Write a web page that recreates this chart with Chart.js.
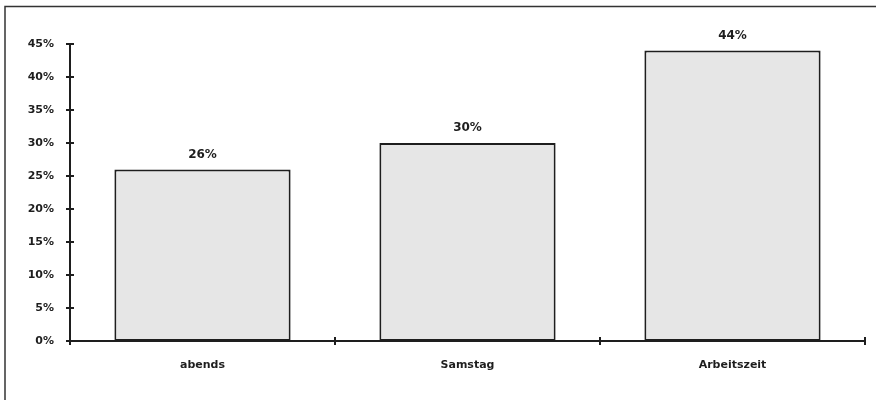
<!DOCTYPE html>
<html>
<head>
<meta charset="utf-8">
<script src="https://cdn.jsdelivr.net/npm/chart.js@4"></script>
<style>
  html, body { margin: 0; padding: 0; background: #fff; }
  #wrap { width: 876px; height: 400px; }
</style>
</head>
<body>
<div id="wrap"><canvas id="myBarChart"></canvas></div>
<script>
// chart data
const categories = ['abends', 'Samstag', 'Arbeitszeit'];
const shares = [26, 30, 44];
const yTicks = [0, 5, 10, 15, 20, 25, 30, 35, 40, 45];

const ink = '#1e1e1e';
const fontFamily = '"DejaVu Sans", Verdana, sans-serif';

// frame, crossing ticks and value labels
const extras = {
    id: 'extras',
    afterDatasetsDraw(chart) {
        const ctx = chart.ctx;
        const area = chart.chartArea;
        const x = chart.scales.x;
        const y = chart.scales.y;
        ctx.save();
        ctx.strokeStyle = '#333';
        ctx.lineWidth = 1.5;
        ctx.beginPath();
        ctx.moveTo(5, 400);
        ctx.lineTo(5, 6.5);
        ctx.lineTo(876, 6.5);
        ctx.stroke();

        ctx.strokeStyle = ink;
        ctx.lineWidth = 2;
        ctx.beginPath();
        ctx.moveTo(area.left, area.top);
        ctx.lineTo(area.left, area.bottom);
        ctx.lineTo(area.right, area.bottom);
        y.ticks.forEach(function(t, i) {
            const py = y.getPixelForTick(i);
            ctx.moveTo(area.left - 4, py);
            ctx.lineTo(area.left + 4, py);
        });
        for (let i = 0; i <= categories.length; i++) {
            const px = x.getPixelForValue(i - 0.5);
            ctx.moveTo(px, area.bottom - 4);
            ctx.lineTo(px, area.bottom + 4);
        }
        ctx.stroke();

        ctx.fillStyle = ink;
        ctx.font = 'bold 12px ' + fontFamily;
        ctx.textAlign = 'center';
        ctx.textBaseline = 'middle';
        chart.getDatasetMeta(0).data.forEach(function(bar, i) {
            ctx.fillText(shares[i] + '%', bar.x, bar.y - 15);
        });
        ctx.restore();
    }
};

var ctxBar = document.getElementById('myBarChart').getContext('2d');
var myBarChart = new Chart(ctxBar, {
    type: 'bar',
    data: {
        labels: categories,
        datasets: [{
            data: shares,
            backgroundColor: '#e6e6e6',
            borderColor: ink,
            borderWidth: 2,
            borderSkipped: false,
            barPercentage: 0.665,
            categoryPercentage: 1
        }]
    },
    options: {
        responsive: true,
        maintainAspectRatio: false,
        animation: false,
        layout: { padding: { left: 0, right: 11, top: 44, bottom: 0 } },
        plugins: {
            legend: { display: false },
            tooltip: { enabled: false }
        },
        scales: {
            y: {
                min: 0,
                max: 45,
                afterFit: function(scale) { scale.width = 70; },
                afterBuildTicks: function(scale) {
                    scale.ticks = yTicks.map(function(v) { return { value: v }; });
                },
                border: { display: false },
                grid: { display: false, drawTicks: false },
                ticks: {
                    padding: 16,
                    color: ink,
                    font: { family: fontFamily, size: 11, weight: 'bold' },
                    callback: function(v) { return v + '%'; }
                }
            },
            x: {
                afterFit: function(scale) { scale.height = 59; },
                border: { display: false },
                grid: { display: false, drawTicks: false },
                ticks: {
                    padding: 18,
                    color: ink,
                    autoSkip: false,
                    maxRotation: 0,
                    font: { family: fontFamily, size: 11, weight: 'bold' }
                }
            }
        }
    },
    plugins: [extras]
});
</script>
</body>
</html>
